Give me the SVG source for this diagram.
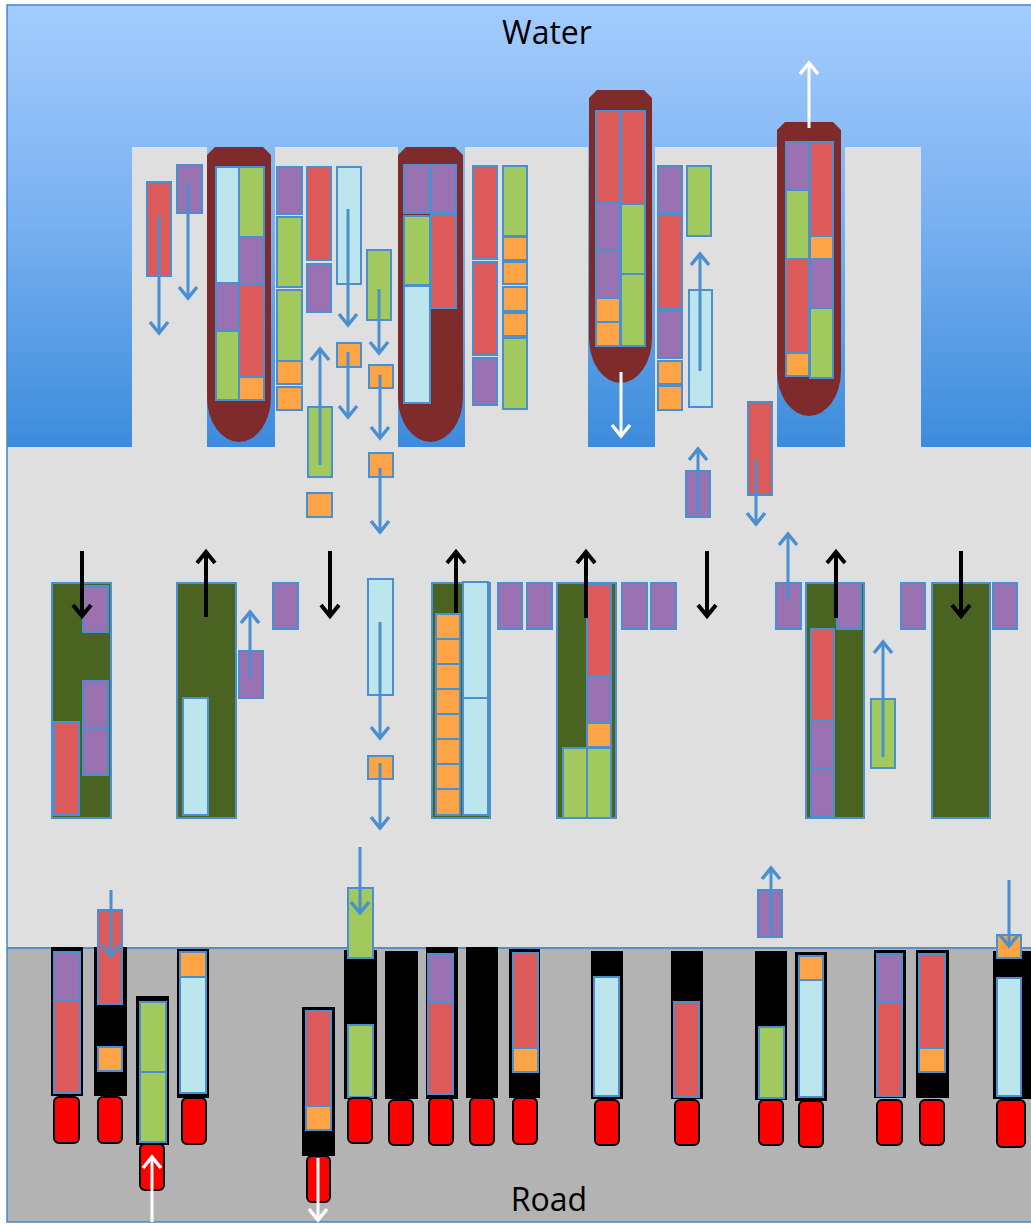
<svg xmlns="http://www.w3.org/2000/svg" width="1031" height="1224" viewBox="0 0 1031 1224">
<defs>
<linearGradient id="water" x1="0" y1="0" x2="0" y2="1">
<stop offset="0" stop-color="#a4ccfd"/>
<stop offset="0.5" stop-color="#78b0f0"/>
<stop offset="1" stop-color="#3c8cdb"/>
</linearGradient>
<marker id="hb" markerUnits="userSpaceOnUse" markerWidth="20" markerHeight="24" viewBox="0 0 20 24" refX="15" refY="12" orient="auto"><path d="M4,3 L15,12 L4,21" fill="none" stroke="#4a8fd0" stroke-width="3.5"/></marker>
<marker id="hk" markerUnits="userSpaceOnUse" markerWidth="20" markerHeight="24" viewBox="0 0 20 24" refX="15" refY="12" orient="auto"><path d="M4,3 L15,12 L4,21" fill="none" stroke="#000" stroke-width="4"/></marker>
<marker id="hw" markerUnits="userSpaceOnUse" markerWidth="20" markerHeight="24" viewBox="0 0 20 24" refX="15" refY="12" orient="auto"><path d="M4,3 L15,12 L4,21" fill="none" stroke="#fff" stroke-width="3.5"/></marker>
</defs>
<style>
.pier{fill:#dfdfdf}
.ship{fill:#7f2a2b}
.r{fill:#dc5a5a;stroke:#4a8fd0;stroke-width:2}
.g{fill:#a2c95e;stroke:#4a8fd0;stroke-width:2}
.p{fill:#9a72b2;stroke:#4a8fd0;stroke-width:2}
.b{fill:#bde5ed;stroke:#4a8fd0;stroke-width:2}
.o{fill:#fda447;stroke:#4a8fd0;stroke-width:2}
.dg{fill:#4b6321;stroke:#4a8fd0;stroke-width:2}
.t{fill:#000;stroke:#000;stroke-width:2}
.cab{fill:#ff0000;stroke:#000;stroke-width:2}
.ab{stroke:#4a8fd0;stroke-width:3;fill:none;marker-end:url(#hb)}
.ak{stroke:#000;stroke-width:4;fill:none;marker-end:url(#hk)}
.aw{stroke:#fff;stroke-width:3;fill:none;marker-end:url(#hw)}
.lbl{font-family:"Open Sans","Liberation Sans",sans-serif;font-size:32px;fill:#000;text-anchor:middle}
</style>

<g id="background">
<rect x="7" y="5" width="1024" height="442" fill="url(#water)"/>
<rect x="7" y="447" width="1024" height="501" fill="#dfdfdf"/>
<rect x="7" y="948" width="1024" height="274" fill="#b3b3b3"/>
<line x1="7" y1="948" x2="1031" y2="948" stroke="#5a8fc6" stroke-width="2"/>
<rect x="7" y="5" width="1026" height="1217" fill="none" stroke="#4a85c4" stroke-width="1.5"/>
</g>

<g id="piers">
<rect class="pier" x="132" y="147" width="75" height="300"/>
<rect class="pier" x="275" y="147" width="123" height="300"/>
<rect class="pier" x="465" y="147" width="123" height="300"/>
<rect class="pier" x="655" y="147" width="122" height="300"/>
<rect class="pier" x="845" y="147" width="76" height="300"/>
</g>

<g id="ship1">
<path class="ship" d="M207,155 L215,147 L263,147 L271,155 L271,397 A32,45 0 0 1 207,397 Z"/>
<rect class="b" x="216" y="167" width="23" height="116"/>
<rect class="p" x="216" y="283" width="23" height="48"/>
<rect class="g" x="216" y="331" width="23" height="69"/>
<rect class="g" x="239" y="167" width="25" height="70"/>
<rect class="p" x="239" y="237" width="25" height="47"/>
<rect class="r" x="239" y="284" width="25" height="93"/>
<rect class="o" x="239" y="377" width="25" height="23"/>
</g>

<g id="ship2">
<path class="ship" d="M398,155 L406,147 L455,147 L463,155 L463,397 A32.5,45 0 0 1 398,397 Z"/>
<rect class="p" x="404" y="165" width="26" height="48"/>
<rect class="g" x="404" y="216" width="26" height="69"/>
<rect class="b" x="404" y="286" width="26" height="117"/>
<rect class="p" x="431" y="165" width="25" height="48"/>
<rect class="r" x="431" y="214" width="25" height="94"/>
</g>

<g id="ship3">
<path class="ship" d="M589,98 L597,90 L644,90 L652,98 L652,338 A31.5,45 0 0 1 589,338 Z"/>
<rect class="r" x="596" y="111" width="24" height="92"/>
<rect class="p" x="596" y="203" width="24" height="47"/>
<rect class="p" x="596" y="250" width="24" height="48"/>
<rect class="o" x="596" y="298" width="24" height="24"/>
<rect class="o" x="596" y="322" width="24" height="24"/>
<rect class="r" x="621" y="111" width="24" height="93"/>
<rect class="g" x="621" y="204" width="24" height="70"/>
<rect class="g" x="621" y="274" width="24" height="72"/>
</g>

<g id="ship4">
<path class="ship" d="M777,130 L785,122 L833,122 L841,130 L841,371 A32,45 0 0 1 777,371 Z"/>
<rect class="p" x="786" y="142" width="23" height="48"/>
<rect class="g" x="786" y="190" width="23" height="69"/>
<rect class="r" x="786" y="259" width="23" height="94"/>
<rect class="o" x="786" y="353" width="23" height="23"/>
<rect class="r" x="810" y="142" width="23" height="94"/>
<rect class="o" x="810" y="236" width="23" height="23"/>
<rect class="p" x="810" y="259" width="23" height="49"/>
<rect class="g" x="810" y="308" width="23" height="70"/>
</g>

<g id="pier-containers">
<rect class="r" x="147" y="182" width="24" height="94"/>
<rect class="p" x="177" y="165" width="25" height="48"/>
<rect class="p" x="277" y="167" width="25" height="47"/>
<rect class="g" x="277" y="217" width="25" height="70"/>
<rect class="g" x="277" y="290" width="25" height="71"/>
<rect class="o" x="277" y="361" width="25" height="23"/>
<rect class="o" x="277" y="387" width="25" height="23"/>
<rect class="r" x="307" y="167" width="24" height="93"/>
<rect class="p" x="307" y="264" width="24" height="48"/>
<rect class="b" x="337" y="167" width="24" height="117"/>
<rect class="g" x="367" y="250" width="24" height="70"/>
<rect class="o" x="337" y="343" width="24" height="24"/>
<rect class="o" x="369" y="365" width="24" height="23"/>
<rect class="g" x="308" y="407" width="24" height="70"/>
<rect class="o" x="307" y="493" width="25" height="24"/>
<rect class="o" x="369" y="453" width="24" height="24"/>
<rect class="r" x="473" y="166" width="24" height="93"/>
<rect class="r" x="473" y="262" width="24" height="93"/>
<rect class="p" x="473" y="358" width="24" height="47"/>
<rect class="g" x="503" y="166" width="24" height="70"/>
<rect class="o" x="503" y="237" width="24" height="23"/>
<rect class="o" x="503" y="262" width="24" height="22"/>
<rect class="o" x="503" y="287" width="24" height="24"/>
<rect class="o" x="503" y="313" width="24" height="23"/>
<rect class="g" x="503" y="338" width="24" height="71"/>
<rect class="p" x="658" y="166" width="24" height="47"/>
<rect class="r" x="658" y="215" width="24" height="94"/>
<rect class="p" x="658" y="311" width="24" height="47"/>
<rect class="o" x="658" y="361" width="24" height="23"/>
<rect class="o" x="658" y="386" width="24" height="24"/>
<rect class="g" x="687" y="166" width="24" height="70"/>
<rect class="b" x="689" y="290" width="23" height="117"/>
<rect class="r" x="748" y="402" width="24" height="93"/>
<rect class="p" x="686" y="471" width="24" height="46"/>
</g>

<g id="yard">
<rect class="dg" x="52" y="583" width="59" height="235"/>
<rect class="p" x="83" y="586" width="25" height="46"/>
<rect class="p" x="83" y="681" width="25" height="47"/>
<rect class="p" x="83" y="728" width="25" height="47"/>
<rect class="r" x="54" y="722" width="25" height="93"/>
<rect class="dg" x="177" y="583" width="59" height="235"/>
<rect class="b" x="183" y="698" width="25" height="117"/>
<rect class="p" x="239" y="651" width="24" height="47"/>
<rect class="p" x="273" y="583" width="25" height="46"/>
<rect class="b" x="368" y="579" width="25" height="116"/>
<rect class="o" x="368" y="756" width="25" height="23"/>
<rect class="dg" x="432" y="583" width="58" height="235"/>
<rect class="o" x="436" y="614" width="24" height="25"/>
<rect class="o" x="436" y="639" width="24" height="25"/>
<rect class="o" x="436" y="664" width="24" height="25"/>
<rect class="o" x="436" y="689" width="24" height="25"/>
<rect class="o" x="436" y="714" width="24" height="25"/>
<rect class="o" x="436" y="739" width="24" height="25"/>
<rect class="o" x="436" y="764" width="24" height="25"/>
<rect class="o" x="436" y="789" width="24" height="26"/>
<rect class="b" x="463" y="582" width="25" height="116"/>
<rect class="b" x="463" y="698" width="25" height="117"/>
<rect class="p" x="498" y="583" width="24" height="46"/>
<rect class="p" x="527" y="583" width="25" height="46"/>
<rect class="dg" x="557" y="583" width="59" height="235"/>
<rect class="r" x="587" y="584" width="24" height="92"/>
<rect class="p" x="587" y="676" width="24" height="47"/>
<rect class="o" x="587" y="723" width="24" height="24"/>
<rect class="g" x="563" y="748" width="24" height="70"/>
<rect class="g" x="587" y="748" width="24" height="70"/>
<rect class="p" x="622" y="583" width="25" height="46"/>
<rect class="p" x="651" y="583" width="25" height="46"/>
<rect class="p" x="776" y="583" width="25" height="46"/>
<rect class="dg" x="806" y="583" width="58" height="235"/>
<rect class="p" x="837" y="583" width="24" height="46"/>
<rect class="r" x="811" y="629" width="23" height="91"/>
<rect class="p" x="811" y="720" width="23" height="48"/>
<rect class="p" x="811" y="768" width="23" height="48"/>
<rect class="g" x="871" y="699" width="24" height="69"/>
<rect class="p" x="901" y="583" width="24" height="46"/>
<rect class="dg" x="932" y="583" width="58" height="235"/>
<rect class="p" x="993" y="583" width="24" height="46"/>
</g>

<g id="trucks">
<rect class="t" x="52" y="948" width="30" height="147"/>
<rect class="p" x="54" y="952" width="26" height="49"/>
<rect class="r" x="54" y="1001" width="26" height="92"/>
<rect class="cab" x="54" y="1097" width="25" height="46" rx="5"/>

<rect class="t" x="95" y="948" width="31" height="147"/>
<rect class="r" x="98" y="910" width="24" height="94"/>
<rect class="o" x="98" y="1047" width="24" height="24"/>
<rect class="cab" x="98" y="1097" width="24" height="46" rx="5"/>

<rect class="t" x="137" y="997" width="31" height="147"/>
<rect class="g" x="140" y="1002" width="26" height="70"/>
<rect class="g" x="140" y="1072" width="26" height="70"/>
<rect class="cab" x="140" y="1144" width="24" height="46" rx="5"/>

<rect class="t" x="178" y="950" width="30" height="147"/>
<rect class="o" x="180" y="952" width="26" height="25"/>
<rect class="b" x="180" y="977" width="26" height="116"/>
<rect class="cab" x="182" y="1098" width="24" height="46" rx="5"/>

<rect class="t" x="303" y="1008" width="31" height="147"/>
<rect class="r" x="306" y="1011" width="25" height="95"/>
<rect class="o" x="306" y="1106" width="25" height="24"/>
<rect class="cab" x="307" y="1156" width="23" height="46" rx="5"/>

<rect class="t" x="345" y="951" width="31" height="147"/>
<rect class="g" x="348" y="888" width="25" height="70"/>
<rect class="g" x="348" y="1025" width="25" height="72"/>
<rect class="cab" x="348" y="1098" width="24" height="45" rx="5"/>

<rect class="t" x="386" y="952" width="31" height="146"/>
<rect class="cab" x="389" y="1100" width="24" height="45" rx="5"/>

<rect class="t" x="427" y="948" width="30" height="150"/>
<rect class="p" x="428" y="954" width="25" height="49"/>
<rect class="r" x="428" y="1003" width="25" height="91"/>
<rect class="cab" x="429" y="1098" width="24" height="47" rx="5"/>

<rect class="t" x="467" y="948" width="30" height="149"/>
<rect class="cab" x="470" y="1098" width="24" height="47" rx="5"/>

<rect class="t" x="510" y="950" width="29" height="147"/>
<rect class="r" x="513" y="953" width="25" height="95"/>
<rect class="o" x="513" y="1048" width="25" height="24"/>
<rect class="cab" x="513" y="1098" width="24" height="46" rx="5"/>

<rect class="t" x="592" y="952" width="30" height="146"/>
<rect class="b" x="594" y="977" width="25" height="119"/>
<rect class="cab" x="595" y="1100" width="24" height="45" rx="5"/>

<rect class="t" x="672" y="952" width="30" height="146"/>
<rect class="r" x="674" y="1002" width="25" height="95"/>
<rect class="cab" x="675" y="1100" width="24" height="45" rx="5"/>

<rect class="t" x="756" y="952" width="30" height="147"/>
<rect class="g" x="759" y="1027" width="25" height="71"/>
<rect class="cab" x="759" y="1100" width="24" height="45" rx="5"/>
<rect class="p" x="758" y="890" width="24" height="47"/>

<rect class="t" x="796" y="953" width="30" height="147"/>
<rect class="o" x="799" y="956" width="24" height="24"/>
<rect class="b" x="799" y="980" width="24" height="117"/>
<rect class="cab" x="799" y="1101" width="24" height="46" rx="5"/>

<rect class="t" x="875" y="951" width="30" height="146"/>
<rect class="p" x="877" y="954" width="25" height="49"/>
<rect class="r" x="877" y="1003" width="25" height="93"/>
<rect class="cab" x="877" y="1100" width="25" height="45" rx="5"/>

<rect class="t" x="917" y="951" width="31" height="146"/>
<rect class="r" x="919" y="954" width="26" height="94"/>
<rect class="o" x="919" y="1048" width="26" height="24"/>
<rect class="cab" x="920" y="1100" width="24" height="45" rx="5"/>

<rect class="t" x="994" y="952" width="40" height="146"/>
<rect class="o" x="997" y="935" width="24" height="23"/>
<rect class="b" x="997" y="978" width="24" height="118"/>
<rect class="cab" x="997" y="1100" width="28" height="47" rx="5"/>
</g>

<g id="connectors">
<line class="ab" x1="159" y1="216" x2="159" y2="333"/>
<line class="ab" x1="188" y1="183" x2="188" y2="298"/>
<line class="ab" x1="348" y1="209" x2="348" y2="325"/>
<line class="ab" x1="379" y1="289" x2="379" y2="353"/>
<line class="ab" x1="348" y1="352" x2="348" y2="417"/>
<line class="ab" x1="380" y1="375" x2="380" y2="438"/>
<line class="ab" x1="320" y1="465" x2="320" y2="349"/>
<line class="ab" x1="380" y1="468" x2="380" y2="532"/>
<line class="ab" x1="700" y1="371" x2="700" y2="254"/>
<line class="ab" x1="756" y1="460" x2="756" y2="524"/>
<line class="ab" x1="698" y1="514" x2="698" y2="449"/>
<line class="aw" x1="621" y1="372" x2="621" y2="436"/>
<line class="aw" x1="809" y1="128" x2="809" y2="63"/>

<line class="ak" x1="82" y1="551" x2="82" y2="616"/>
<line class="ak" x1="206" y1="617" x2="206" y2="552"/>
<line class="ab" x1="250" y1="677" x2="250" y2="612"/>
<line class="ak" x1="330" y1="551" x2="330" y2="616"/>
<line class="ab" x1="380" y1="622" x2="380" y2="738"/>
<line class="ab" x1="380" y1="763" x2="380" y2="828"/>
<line class="ak" x1="456" y1="613" x2="456" y2="552"/>
<line class="ak" x1="586" y1="618" x2="586" y2="552"/>
<line class="ak" x1="707" y1="551" x2="707" y2="616"/>
<line class="ab" x1="788" y1="599" x2="788" y2="534"/>
<line class="ak" x1="836" y1="618" x2="836" y2="552"/>
<line class="ab" x1="883" y1="757" x2="883" y2="642"/>
<line class="ak" x1="961" y1="551" x2="961" y2="616"/>

<line class="ab" x1="111" y1="890" x2="111" y2="956"/>
<line class="aw" x1="152" y1="1222" x2="152" y2="1157"/>
<line class="aw" x1="318" y1="1158" x2="318" y2="1220"/>
<line class="ab" x1="360" y1="847" x2="360" y2="913"/>
<line class="ab" x1="771" y1="934" x2="771" y2="868"/>
<line class="ab" x1="1009" y1="880" x2="1009" y2="946"/>
</g>

<g id="labels">
<text class="lbl" x="547" y="44">Water</text>
<text class="lbl" x="549" y="1211">Road</text>
</g>
</svg>
